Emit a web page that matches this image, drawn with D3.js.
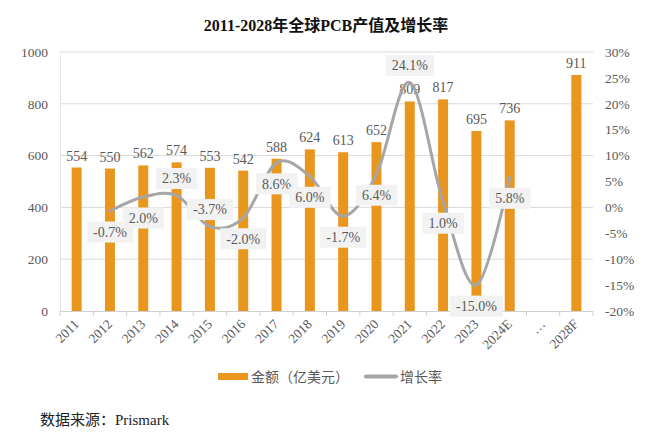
<!DOCTYPE html>
<html><head><meta charset="utf-8">
<script src="https://cdn.jsdelivr.net/npm/d3@7"></script>
<style>
html,body{margin:0;padding:0;background:#fff;}
svg{display:block;}
</style></head>
<body>
<svg id="chart" width="660" height="438"></svg>
<script>
const categories = ["2011","2012","2013","2014","2015","2016","2017","2018","2019","2020","2021","2022","2023","2024E","…","2028F"];
const amounts = [554,550,562,574,553,542,588,624,613,652,809,817,695,736,null,911];
const growth = [null,-0.7,2.0,2.3,-3.7,-2.0,8.6,6.0,-1.7,6.4,24.1,1.0,-15.0,5.8,null,null];
const leftTicks = [0,200,400,600,800,1000];
const rightTicks = [-20,-15,-10,-5,0,5,10,15,20,25,30];
const labelSide = [null,"below","below","above","above","below","below","below","below","below","above","below","below","below",null,null];

const FONT = "'Liberation Serif','Noto Sans CJK SC',serif";
const svg = d3.select("#chart");
const L = 60, R = 593, T = 52, B = 311;

const x = d3.scaleBand().domain(categories).range([L, R]).padding(0);
const yL = d3.scaleLinear().domain([0, 1000]).range([B, T]);
const yR = d3.scaleLinear().domain([-20, 30]).range([B, T]);

// title
svg.append("text").attr("x", 326).attr("y", 31).attr("text-anchor", "middle")
  .attr("font-family", FONT).attr("font-size", 16).attr("font-weight", "bold").attr("fill", "#111")
  .text("2011-2028年全球PCB产值及增长率");

// gridlines
svg.append("g").selectAll("line").data(leftTicks.filter(d => d > 0)).join("line")
  .attr("x1", L).attr("x2", R).attr("y1", d => yL(d)).attr("y2", d => yL(d))
  .attr("stroke", "#d9d9d9").attr("stroke-width", 1);
svg.append("line").attr("x1", L + 0.5).attr("x2", L + 0.5).attr("y1", T).attr("y2", B)
  .attr("stroke", "#e6e6e6");

// left axis labels
svg.append("g").selectAll("text").data(leftTicks).join("text")
  .attr("x", 48).attr("y", d => yL(d)).attr("dy", "0.35em").attr("text-anchor", "end")
  .attr("font-family", FONT).attr("font-size", 13.5).attr("fill", "#595959").text(d => d);

// right axis labels
svg.append("g").selectAll("text").data(rightTicks).join("text")
  .attr("x", 605).attr("y", d => yR(d)).attr("dy", "0.35em").attr("text-anchor", "start")
  .attr("font-family", FONT).attr("font-size", 13.5).attr("fill", "#595959").text(d => d + "%");

// bars
const bw = x.bandwidth() * 0.3;
const barData = categories.map((c, i) => ({c, v: amounts[i]})).filter(d => d.v != null);
svg.append("g").selectAll("rect").data(barData).join("rect")
  .attr("x", d => x(d.c) + x.bandwidth() / 2 - bw / 2).attr("width", bw)
  .attr("y", d => yL(d.v)).attr("height", d => yL(0) - yL(d.v))
  .attr("fill", "#E9961F");

// bottom axis line & ticks
svg.append("line").attr("x1", L).attr("x2", R).attr("y1", B + 0.5).attr("y2", B + 0.5)
  .attr("stroke", "#d0d0d0");
svg.append("g").selectAll("line").data(d3.range(categories.length + 1)).join("line")
  .attr("x1", i => L + i * x.bandwidth()).attr("x2", i => L + i * x.bandwidth())
  .attr("y1", B).attr("y2", B + 5).attr("stroke", "#d0d0d0");

// x tick labels
svg.append("g").selectAll("text").data(categories).join("text")
  .attr("text-anchor", "end")
  .attr("transform", d => `translate(${x(d) + x.bandwidth() / 2 + 3},${B + 14}) rotate(-45)`)
  .attr("font-family", FONT).attr("font-size", 13.5).attr("fill", "#595959").text(d => d);

// bar value labels
svg.append("g").selectAll("text").data(barData).join("text")
  .attr("x", d => x(d.c) + x.bandwidth() / 2).attr("y", d => yL(d.v) - 7)
  .attr("text-anchor", "middle").attr("font-family", FONT).attr("font-size", 14)
  .attr("fill", "#595959").text(d => d.v);

// growth line
const lineData = categories.map((c, i) => ({c, v: growth[i], side: labelSide[i]})).filter(d => d.v != null);
const line = d3.line().x(d => x(d.c) + x.bandwidth() / 2).y(d => yR(d.v)).curve(d3.curveCardinal.tension(0));
svg.append("path").datum(lineData).attr("d", line).attr("fill", "none")
  .attr("stroke", "#A6A6A6").attr("stroke-width", 3).attr("stroke-linecap", "round");

// growth labels
const lg = svg.append("g").selectAll("g").data(lineData).join("g")
  .attr("transform", d => `translate(${x(d.c) + x.bandwidth() / 2},${yR(d.v) + (d.side === "above" ? -17 : 21)})`);
lg.append("text").attr("text-anchor", "middle").attr("dy", "0.35em")
  .attr("font-family", FONT).attr("font-size", 14).attr("fill", "#595959")
  .text(d => d.v.toFixed(1) + "%");
lg.each(function() {
  const g = d3.select(this);
  const bb = g.select("text").node().getBBox();
  g.insert("rect", "text").attr("x", bb.x - 6).attr("y", -10.5).attr("width", bb.width + 12).attr("height", 21)
    .attr("fill", "#F2F2F2");
});

// legend
svg.append("rect").attr("x", 218).attr("y", 373).attr("width", 30).attr("height", 7).attr("fill", "#E9961F");
svg.append("text").attr("x", 251).attr("y", 377).attr("dy", "0.35em")
  .attr("font-family", FONT).attr("font-size", 14).attr("fill", "#595959").text("金额（亿美元）");
svg.append("line").attr("x1", 366).attr("x2", 396).attr("y1", 376.5).attr("y2", 376.5)
  .attr("stroke", "#A6A6A6").attr("stroke-width", 4).attr("stroke-linecap", "round");
svg.append("text").attr("x", 400).attr("y", 377).attr("dy", "0.35em")
  .attr("font-family", FONT).attr("font-size", 14).attr("fill", "#595959").text("增长率");

// source
svg.append("text").attr("x", 40).attr("y", 425)
  .attr("font-family", FONT).attr("font-size", 15).attr("fill", "#222").text("数据来源：Prismark");
</script>
</body></html>
